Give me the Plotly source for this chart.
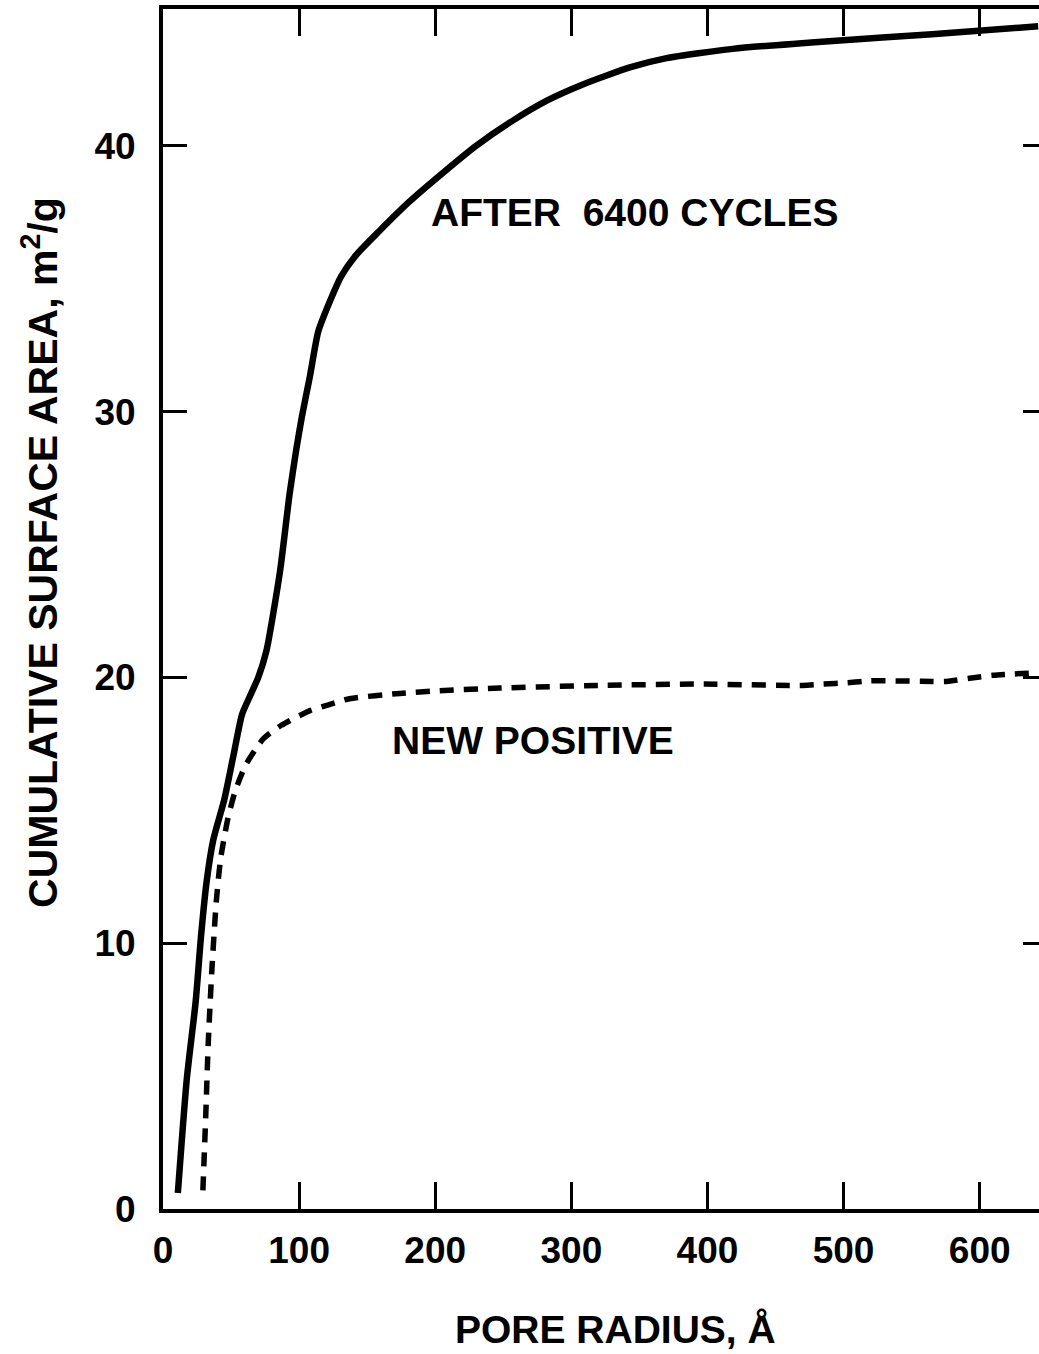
import plotly.graph_objects as go

# ---- data ----
after_x = [10.9, 17.5, 24, 28, 32, 37, 45, 51.5, 58, 63, 70, 76, 86, 93, 98, 102,
           108, 114, 121.4, 131, 142, 159, 181, 206, 230, 257, 282, 308, 343, 370,
           418.6, 492, 565, 643]
after_y = [0.6, 4.9, 7.8, 10.3, 12.3, 13.9, 15.4, 17.0, 18.6, 19.2, 20.0, 21.0, 24.0, 26.9, 28.6, 29.8,
           31.35, 33.0, 34.0, 35.1, 35.9, 36.8, 37.9, 39.0, 40.0, 40.95, 41.7, 42.3, 42.95, 43.3,
           43.65, 43.95, 44.2, 44.5]

new_x = [29.3, 31.4, 33.2, 35.8, 39.2, 42.4, 47.7, 52.9, 60.7, 73.8, 87, 108, 121, 137, 174,
         203, 247.5, 321, 394, 470, 485, 503, 519, 557, 575.5, 592.6, 609.6, 639]
new_y = [0.7, 3.5, 6.2, 8.9, 11.6, 13.2, 14.7, 15.7, 16.7, 17.7, 18.2, 18.75, 18.96, 19.2, 19.4,
         19.5, 19.6, 19.7, 19.75, 19.7, 19.75, 19.8, 19.87, 19.86, 19.85, 19.97, 20.08, 20.17]

x_ticks = [0, 100, 200, 300, 400, 500, 600]
y_ticks = [0, 10, 20, 30, 40]

x_title = "PORE RADIUS, Å"
y_title = "CUMULATIVE SURFACE AREA, m<sup>2</sup>/g"
label_after = "AFTER  6400 CYCLES"
label_new = "NEW POSITIVE"

FONT = "Liberation Sans, Arial, Helvetica, sans-serif"

fig = go.Figure()
fig.add_trace(go.Scatter(x=after_x, y=after_y, mode="lines",
                         line=dict(color="black", width=6.5, shape="spline", smoothing=0.6),
                         hoverinfo="skip"))
fig.add_trace(go.Scatter(x=new_x, y=new_y, mode="lines",
                         line=dict(color="black", width=5.5, dash="14px,10px", shape="spline", smoothing=0.6),
                         hoverinfo="skip"))
# invisible trace to carry the right-hand tick axis
fig.add_trace(go.Scatter(x=[0], y=[0], mode="markers", marker=dict(opacity=0), yaxis="y2",
                         hoverinfo="skip"))

fig.update_layout(
    width=1039, height=1354,
    margin=dict(l=163, r=0, t=9, b=145),
    plot_bgcolor="white", paper_bgcolor="white",
    showlegend=False,
    font=dict(family=FONT, color="black"),
    xaxis=dict(range=[0, 643.6], tickvals=x_ticks, ticks="inside", ticklen=27, tickwidth=3,
               tickcolor="black", showline=True, linewidth=4, linecolor="black", mirror="ticks",
               showgrid=False, zeroline=False, ticklabelstandoff=6,
               tickfont=dict(family=FONT, size=37, weight="bold", color="black")),
    yaxis=dict(range=[0, 45.15], tickvals=y_ticks, ticks="inside", ticklen=24, tickwidth=3,
               tickcolor="black", showline=True, linewidth=4, linecolor="black", mirror=False,
               showgrid=False, zeroline=False, ticklabelstandoff=16,
               tickfont=dict(family=FONT, size=37, weight="bold", color="black")),
    yaxis2=dict(range=[0, 45.15], tickvals=y_ticks, overlaying="y", side="right",
                ticks="inside", ticklen=16, tickwidth=3, tickcolor="black",
                showline=False, showgrid=False, zeroline=False, showticklabels=False),
    annotations=[
        dict(text=x_title, xref="paper", yref="paper", x=0.517, y=-0.1008,
             xanchor="center", yanchor="middle", showarrow=False,
             font=dict(family=FONT, size=39, weight="bold", color="black")),
        dict(text=y_title, xref="paper", yref="paper", x=-0.1405, y=0.5475, textangle=-90,
             xanchor="center", yanchor="middle", showarrow=False,
             font=dict(family=FONT, size=41, weight="bold", color="black")),
        dict(text=label_after, xref="paper", yref="paper", x=0.5377, y=0.8308,
             xanchor="center", yanchor="middle", showarrow=False,
             font=dict(family=FONT, size=39, weight="bold", color="black")),
        dict(text=label_new, xref="paper", yref="paper", x=0.4224, y=0.3908,
             xanchor="center", yanchor="middle", showarrow=False,
             font=dict(family=FONT, size=39, weight="bold", color="black")),
    ],
)

fig.write_html("out.html", config={"displayModeBar": False},
               post_script="document.body.style.margin='0';document.body.style.overflow='hidden';")
